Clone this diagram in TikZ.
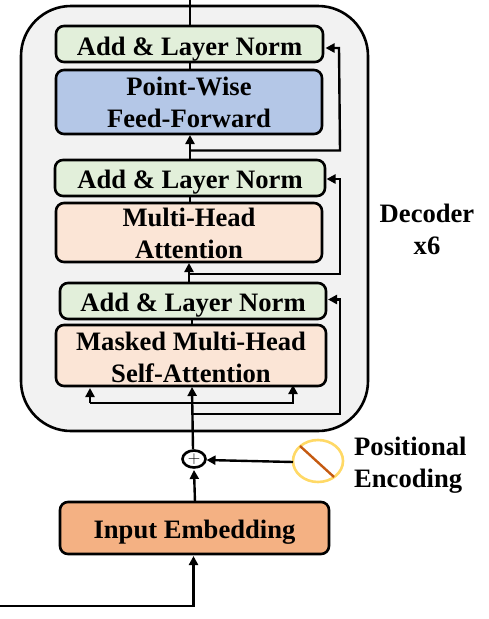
\documentclass[tikz,border=0pt]{standalone}
\usepackage{fontspec}
\setmainfont{Liberation Serif}
\usetikzlibrary{arrows.meta,calc,shapes.geometric}
\definecolor{grn}{HTML}{E2EFDA}
\definecolor{blu}{HTML}{B4C7E7}
\definecolor{pch}{HTML}{FBE5D6}
\definecolor{org}{HTML}{F4B183}
\definecolor{yel}{HTML}{FFD966}
\definecolor{rst}{HTML}{C55A11}
\definecolor{outer}{HTML}{F2F2F2}
\tikzset{
  x=1pt,y=-1pt,
  box/.style={draw=black,line width=2.6pt,rounded corners=8pt,inner sep=0pt,
    font=\fontsize{26.6}{32}\selectfont\bfseries,text=black},
  lab/.style={font=\fontsize{26.6}{32}\selectfont\bfseries,align=left,inner sep=0pt,text=black},
  conn/.style={draw=black,line width=2.4pt},
  arr/.style={conn,-{Triangle[length=9pt,width=9pt]}},
}
\newcommand{\mybox}[7]{% name, x0,y0,x1,y1, fill, text
  \node[box,fill=#6,minimum width=#4pt-#2pt,minimum height=#5pt-#3pt] (#1) at ({(#2+#4)/2},{(#3+#5)/2}) {#7};}
\newcommand{\rs}[2]{\raisebox{-#1pt}[0pt][0pt]{\vtop{\halign{\hfil##\hfil\cr#2\cr}}}}
\begin{document}
\begin{tikzpicture}
\useasboundingbox (0,0) rectangle (489,619);
\node[draw=black,line width=2.6pt,fill=outer,rounded corners=50pt,minimum width=347pt,minimum height=425pt,inner sep=0pt] (dec) at (194.5,218.5) {};
\mybox{addA}{56}{26}{323}{62}{grn}{\rs{11}{Add \& Layer Norm}}
\mybox{pw}{56}{70}{322}{134}{blu}{\rs{-6.3}{Point-Wise\cr Feed-Forward}}
\mybox{addB}{55}{160}{325}{196}{grn}{\rs{10}{Add \& Layer Norm}}
\mybox{mh}{56}{203}{322}{262}{pch}{\rs{-6.5}{Multi-Head\cr Attention}}
\mybox{addC}{60}{283}{326}{319}{grn}{\rs{10}{Add \& Layer Norm}}
\mybox{ma}{56}{325}{326}{386}{pch}{\rs{-5.5}{Masked Multi-Head\cr Self-Attention}}
\mybox{emb}{60}{502}{329}{554}{org}{\rs{10}{Input Embedding}}
\node[draw=black,line width=2.6pt,fill=white,ellipse,minimum width=23pt,minimum height=17pt,inner sep=0pt,font=\fontsize{19}{19}\selectfont] (plus) at (194,459) {$+$};
\node[draw=yel,line width=2.6pt,fill=white,ellipse,minimum width=50pt,minimum height=42pt,inner sep=0pt] (pe) at (318,461) {};
\coordinate (dA) at (300,446);
\coordinate (dB) at (334,477);
\draw[rst,line width=2.4pt] (dA) -- (dB);
\node[lab,align=center] (decl) at (427,229) {Decoder\\x6};
\node[lab,anchor=west] (pos) at (354,465) {Positional\\Encoding};
% connectors
\coordinate (topEnd) at (190,0);
\draw[conn] (topEnd) -- (190,26);
\draw[conn] (190,62) -- (190,70);
\draw[arr] (190,160) -- (190,135);
\draw[arr] (190,150.5) -- (340,150.5) -- (339,48) -- (325.5,48);
\draw[conn] (190,196) -- (190,203);
\draw[arr] (189,283) -- (189,263);
\draw[arr] (190,274) -- (340,274) -- (340,179) -- (326.5,179);
\draw[conn] (192,319) -- (192,325);
\draw[arr] (193,449) -- (192,387);
\draw[arr] (90,403) -- (90,388);
\draw[arr] (90,403) -- (293,403) -- (293,385);
\draw[arr] (193,414) -- (340,414) -- (340,299.5) -- (328,299.5);
\draw[arr] (195,502) -- (194,470);
\draw[arr] (293,462) -- (206.5,460);
\coordinate (inEnd) at (0,606);
\draw[arr] (inEnd) -- (193.5,606) -- (193.5,556);
\end{tikzpicture}
\end{document}
